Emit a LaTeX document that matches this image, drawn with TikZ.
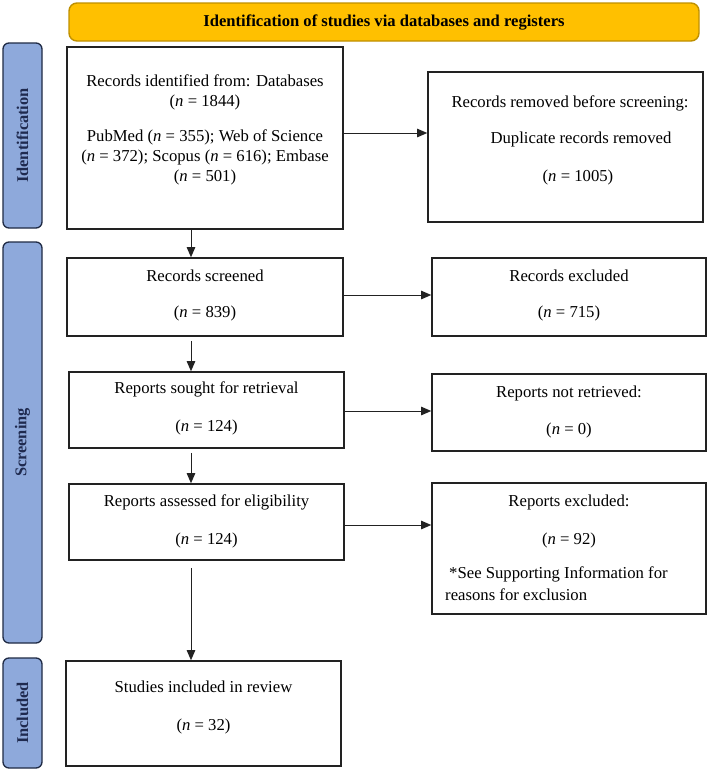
\documentclass[tikz,border=0pt]{standalone}
\usepackage{fontspec}
\setmainfont{Liberation Serif}
\usetikzlibrary{arrows.meta}
\definecolor{gold}{HTML}{FFC000}
\definecolor{goldline}{HTML}{BF9000}
\definecolor{sideblue}{HTML}{8EA9DB}
\definecolor{sideline}{HTML}{1F2A44}
\definecolor{navy}{HTML}{1F2A4F}
\definecolor{boxline}{HTML}{222222}
\begin{document}
\begin{tikzpicture}[x=1pt,y=-1pt,
  box/.style={draw=boxline, line width=1.6pt, inner sep=0pt},
  txt/.style={inner sep=0pt, align=center, font=\fontsize{16.7}{20}\selectfont},
  banner/.style={draw=goldline, fill=gold, rounded corners=8pt, line width=1.4pt, inner sep=0pt,
    font=\fontsize{16.6}{18}\bfseries\selectfont},
  side/.style={draw=sideline, fill=sideblue, rounded corners=6pt, line width=1.3pt, inner sep=0pt,
    rotate=90, font=\fontsize{16.4}{19}\bfseries\selectfont, text=navy},
  arr/.style={draw=boxline, line width=0.9pt, -{Triangle[length=10pt,width=8.5pt]}}
]
\useasboundingbox (0,0) rectangle (709,772);

% banner
\node[banner, minimum width=630, minimum height=38] (ban) at (384,22) {Identification of studies via databases and registers};

% side labels
\node[side, minimum width=185, minimum height=39] (sid) at (22.5,135.5) {Identification};
\node[side, minimum width=401, minimum height=39] (sscr) at (22.5,442.5) {Screening};
\node[side, minimum width=110, minimum height=39] (sinc) at (22.5,713) {Included};

% boxes
\node[box, minimum width=276, minimum height=182] (ident) at (205,138) {};
\node[txt] (identT) at (205,130) {Records identified from: Databases\\(\textit{n} = 1844)\\[15pt]PubMed (\textit{n} = 355); Web of Science\\(\textit{n} = 372); Scopus (\textit{n} = 616); Embase\\(\textit{n} = 501)};

\node[box, minimum width=275, minimum height=150] (removed) at (565.5,147) {};
\node[txt] (removedT) at (570,140) {Records removed before screening:\\[16pt]\hspace*{22pt}Duplicate records removed\\[18pt]\hspace*{16pt}(\textit{n} = 1005)};

\node[box, minimum width=276, minimum height=78] (screened) at (205,297) {};
\node[txt] (screenedT) at (205,295) {Records screened\\[16pt](\textit{n} = 839)};

\node[box, minimum width=274, minimum height=78] (excl) at (569,297) {};
\node[txt] (exclT) at (569,295) {Records excluded\\[16pt](\textit{n} = 715)};

\node[box, minimum width=275, minimum height=76] (sought) at (206.5,410) {};
\node[txt] (soughtT) at (206.5,408) {Reports sought for retrieval\\[18pt](\textit{n} = 124)};

\node[box, minimum width=274, minimum height=77] (notret) at (569,412.5) {};
\node[txt] (notretT) at (569,411.5) {Reports not retrieved:\\[17pt](\textit{n} = 0)};

\node[box, minimum width=275, minimum height=76] (assessed) at (206.5,522) {};
\node[txt] (assessedT) at (206.5,521) {Reports assessed for eligibility\\[18pt](\textit{n} = 124)};

\node[box, minimum width=274, minimum height=131] (repexcl) at (569,548.5) {};
\node[txt] (repexclT) at (569,521) {Reports excluded:\\[18pt](\textit{n} = 92)};
\node[txt, align=left, anchor=west] (repexclN) at (445,584) {\hspace*{4pt}*See Supporting Information for\\[2pt]reasons for exclusion};

\node[box, minimum width=275, minimum height=105] (included) at (203.5,713.5) {};
\node[txt] (includedT) at (203.5,707) {Studies included in review\\[18pt](\textit{n} = 32)};

% connectors
\coordinate (vx) at (191,0);
\draw[arr] (ident.south -| vx) -- (screened.north -| vx);
\draw[arr, shorten <=4pt] (screened.south -| vx) -- (sought.north -| vx);
\draw[arr, shorten <=4pt] (sought.south -| vx) -- (assessed.north -| vx);
\draw[arr, shorten <=7pt] (assessed.south -| vx) -- (included.north -| vx);

\draw[arr] ([yshift=5pt]ident.east) -- ([yshift=5pt]ident.east -| removed.west);
\draw[arr] ([yshift=2pt]screened.east) -- ([yshift=2pt]screened.east -| excl.west);
\draw[arr] ([yshift=-1pt]sought.east) -- ([yshift=-1pt]sought.east -| notret.west);
\draw[arr] ([yshift=-3pt]assessed.east) -- ([yshift=-3pt]assessed.east -| repexcl.west);
\end{tikzpicture}
\end{document}
